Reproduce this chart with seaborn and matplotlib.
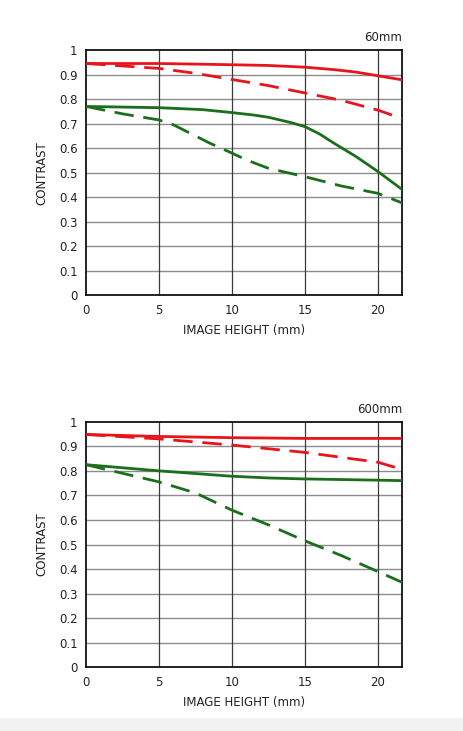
import pandas as pd
import numpy as np
import matplotlib.pyplot as plt
import seaborn as sns

# MTF data (image height in mm -> contrast)
h60_rs = [0, 5, 10, 12.5, 15, 17, 18.5, 20, 21.7]
c60_rs = [0.945, 0.945, 0.94, 0.937, 0.93, 0.92, 0.91, 0.895, 0.878]
h60_rd = [0, 2.5, 5, 7.5, 10, 12.5, 15, 17.5, 20, 21.7]
c60_rd = [0.945, 0.935, 0.925, 0.905, 0.88, 0.855, 0.825, 0.795, 0.755, 0.72]
h60_gs = [0, 5, 8, 10, 11.5, 12.5, 14, 15, 16, 17, 18.5, 20, 21.7]
c60_gs = [0.77, 0.765, 0.757, 0.745, 0.735, 0.726, 0.705, 0.688, 0.658, 0.62, 0.566, 0.505, 0.43]
h60_gd = [0, 2.5, 5, 6, 7, 8.5, 10, 11, 12.5, 15, 17.5, 20, 21.7]
c60_gd = [0.77, 0.74, 0.715, 0.695, 0.665, 0.62, 0.58, 0.552, 0.518, 0.484, 0.446, 0.416, 0.376]

h600_rs = [0, 5, 10, 15, 21.7]
c600_rs = [0.948, 0.94, 0.935, 0.932, 0.932]
h600_rd = [0, 5, 10, 15, 20, 21.7]
c600_rd = [0.948, 0.93, 0.905, 0.875, 0.835, 0.805]
h600_gs = [0, 5, 10, 12.5, 15, 20, 21.7]
c600_gs = [0.825, 0.80, 0.778, 0.771, 0.767, 0.762, 0.76]
h600_gd = [0, 5, 7.5, 10, 12.5, 15, 17.5, 20, 21.7]
c600_gd = [0.825, 0.755, 0.71, 0.64, 0.58, 0.515, 0.455, 0.39, 0.345]

red = "#e8141b"
green = "#1b6e1b"

def make_df(parts):
    rows = []
    for name, h, c in parts:
        for x, y in zip(h, c):
            rows.append({"height": x, "contrast": y, "curve": name})
    return pd.DataFrame(rows)

df60 = make_df([("rs", h60_rs, c60_rs), ("rd", h60_rd, c60_rd),
                ("gs", h60_gs, c60_gs), ("gd", h60_gd, c60_gd)])
df600 = make_df([("rs", h600_rs, c600_rs), ("rd", h600_rd, c600_rd),
                 ("gs", h600_gs, c600_gs), ("gd", h600_gd, c600_gd)])

sns.set_style("white")
plt.rcParams['font.family'] = ['DejaVu Sans']

fig = plt.figure(figsize=(4.64, 7.31), dpi=100)
# light strip at bottom of the page
fig.patches.append(plt.Rectangle((0, 0), 1, 13 / 731, transform=fig.transFigure,
                                 color="#f2f2f2", zorder=-1))

ax1 = fig.add_axes([0.1853, 0.5958, 0.681, 0.3358])
ax2 = fig.add_axes([0.1853, 0.0871, 0.681, 0.336])

palette = {"rs": red, "rd": red, "gs": green, "gd": green}
dashes = {"rs": "", "rd": (7, 3.5), "gs": "", "gd": (7, 3.5)}

for ax, df, label in [(ax1, df60, "60mm"), (ax2, df600, "600mm")]:
    for y in np.arange(0.1, 1.0, 0.1):
        ax.axhline(y, color="#8c8c8c", lw=1, zorder=1)
    for x in [5, 10, 15, 20]:
        ax.axvline(x, color="#3a3a3a", lw=0.9, zorder=1)
    sns.lineplot(data=df, x="height", y="contrast", hue="curve", style="curve",
                 palette=palette, dashes=dashes, linewidth=2, legend=False,
                 ax=ax, zorder=3)
    ax.set_xlim(0, 21.65)
    ax.set_ylim(0, 1)
    ax.set_xticks([0, 5, 10, 15, 20])
    ax.set_yticks(np.round(np.arange(0, 1.01, 0.1), 1))
    ax.set_yticklabels(["0", "0.1", "0.2", "0.3", "0.4", "0.5", "0.6", "0.7", "0.8", "0.9", "1"])
    ax.tick_params(length=0, labelsize=8.5, colors="#222222", pad=6)
    for s in ax.spines.values():
        s.set_color("#111111")
        s.set_linewidth(1.3)
    ax.set_xlabel("IMAGE HEIGHT (mm)", fontsize=8.5, color="#222222", labelpad=5)
    ax.set_ylabel("CONTRAST", fontsize=8.5, color="#222222", labelpad=8)
    ax.text(1.0, 1.025, label, transform=ax.transAxes, ha="right", va="bottom",
            fontsize=8.5, color="#222222")

plt.savefig("out.png", dpi=100)
